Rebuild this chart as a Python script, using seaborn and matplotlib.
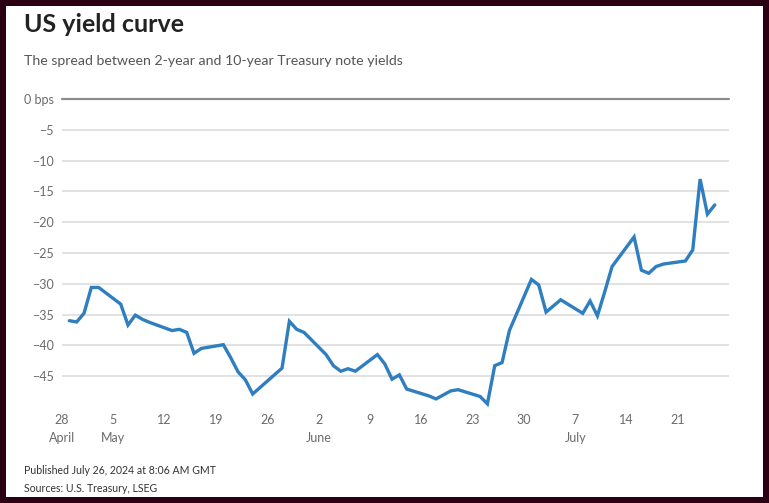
import matplotlib
matplotlib.use("Agg")
import matplotlib.pyplot as plt
import matplotlib.patches as mpatches
import seaborn as sns
import pandas as pd
import numpy as np

# ---- data ----
dates = [
    "2024-04-29", "2024-04-30", "2024-05-01", "2024-05-02", "2024-05-03",
    "2024-05-06", "2024-05-07", "2024-05-08", "2024-05-09", "2024-05-10",
    "2024-05-13", "2024-05-14", "2024-05-15", "2024-05-16", "2024-05-17",
    "2024-05-20", "2024-05-21", "2024-05-22", "2024-05-23", "2024-05-24",
    "2024-05-28", "2024-05-29", "2024-05-30", "2024-05-31",
    "2024-06-03", "2024-06-04", "2024-06-05", "2024-06-06", "2024-06-07",
    "2024-06-10", "2024-06-11", "2024-06-12", "2024-06-13", "2024-06-14",
    "2024-06-17", "2024-06-18", "2024-06-20", "2024-06-21",
    "2024-06-24", "2024-06-25", "2024-06-26", "2024-06-27", "2024-06-28",
    "2024-07-01", "2024-07-02", "2024-07-03", "2024-07-05",
    "2024-07-08", "2024-07-09", "2024-07-10", "2024-07-11", "2024-07-12",
    "2024-07-15", "2024-07-16", "2024-07-17", "2024-07-18", "2024-07-19",
    "2024-07-22", "2024-07-23", "2024-07-24", "2024-07-25", "2024-07-26",
]
spread_bps = [
    -36.0, -36.2, -34.8, -30.6, -30.6,
    -33.3, -36.7, -35.1, -35.8, -36.3,
    -37.6, -37.4, -37.9, -41.3, -40.5,
    -39.9, -42.0, -44.3, -45.6, -47.9,
    -43.7, -36.1, -37.4, -37.9,
    -41.5, -43.3, -44.2, -43.8, -44.2,
    -41.5, -43.0, -45.5, -44.8, -47.1,
    -48.2, -48.7, -47.4, -47.2,
    -48.3, -49.5, -43.3, -42.8, -37.6,
    -29.3, -30.2, -34.6, -32.6,
    -34.8, -32.8, -35.2, -31.3, -27.2,
    -22.4, -27.8, -28.3, -27.2, -26.8,
    -26.3, -24.5, -13.0, -18.7, -17.2,
]
xtick_dates = ["2024-04-28", "2024-05-05", "2024-05-12", "2024-05-19", "2024-05-26",
               "2024-06-02", "2024-06-09", "2024-06-16", "2024-06-23", "2024-06-30",
               "2024-07-07", "2024-07-14", "2024-07-21"]
xtick_labels = ["28\nApril", "5\nMay", "12", "19", "26", "2\nJune", "9", "16", "23",
                "30", "7\nJuly", "14", "21"]
ytick_values = [0, -5, -10, -15, -20, -25, -30, -35, -40, -45]
ytick_labels = ["0 bps", "\u22125", "\u221210", "\u221215", "\u221220", "\u221225",
                "\u221230", "\u221235", "\u221240", "\u221245"]

title = "US yield curve"
subtitle = "The spread between 2-year and 10-year Treasury note yields"
footer1 = "Published July 26, 2024 at 8:06 AM GMT"
footer2 = "Sources: U.S. Treasury, LSEG"

# ---- style ----
sns.set_theme(style="white")
plt.rcParams["font.family"] = ["Lato", "DejaVu Sans"]

W, H = 769, 503
fig = plt.figure(figsize=(W / 100, H / 100), dpi=100)
fig.patch.set_facecolor("#2b0012")
card = mpatches.Rectangle((5.5 / W, 1 - 496.7 / H), (762.7 - 5.5) / W, (496.7 - 6) / H,
                          transform=fig.transFigure, facecolor="white",
                          edgecolor="none", zorder=-10)
fig.patches.append(card)

ax_left, ax_right = 62 / W, 728.7 / W
y_top, y_bot = 99, 410
ax = fig.add_axes([ax_left, 1 - y_bot / H, ax_right - ax_left, (y_bot - y_top) / H])
ax.set_facecolor("none")

df = pd.DataFrame({"date": pd.to_datetime(dates), "spread": spread_bps})

# grid lines
for v in ytick_values:
    if v == 0:
        ax.axhline(v, color="#8c8c8c", lw=1.6, zorder=1, clip_on=False)
    else:
        ax.axhline(v, color="#dddddd", lw=1.2, zorder=1)

sns.lineplot(data=df, x="date", y="spread", ax=ax, color="#2f7ec0", lw=2.4,
             zorder=3, solid_joinstyle="miter")

x0 = pd.Timestamp("2024-04-28")
ax.set_xlim(x0, x0 + pd.Timedelta(days=90.9))
ax.set_ylim(-50.5, 0)

ax.set_xticks(pd.to_datetime(xtick_dates))
ax.set_xticklabels(xtick_labels, linespacing=1.55)
ax.set_yticks(ytick_values)
ax.set_yticklabels(ytick_labels)
ax.tick_params(axis="both", length=0, labelsize=9, labelcolor="#6b6b6b")
ax.tick_params(axis="y", pad=6)
ax.tick_params(axis="x", pad=3)
for lbl in ax.get_xticklabels():
    lbl.set_verticalalignment("top")
ax.set_xlabel("")
ax.set_ylabel("")
for s in ax.spines.values():
    s.set_visible(False)

fig.text(24 / W, 1 - 25 / H, title, fontsize=18, fontweight="bold", color="#222222",
         ha="left", va="center")
fig.text(24 / W, 1 - 61 / H, subtitle, fontsize=10.2, color="#555555",
         ha="left", va="center")
fig.text(24 / W, 1 - 470 / H, footer1, fontsize=7.6, color="#333333",
         ha="left", va="center")
fig.text(24 / W, 1 - 488 / H, footer2, fontsize=7.6, color="#333333",
         ha="left", va="center")

fig.savefig("out.png", dpi=100, facecolor=fig.get_facecolor())
